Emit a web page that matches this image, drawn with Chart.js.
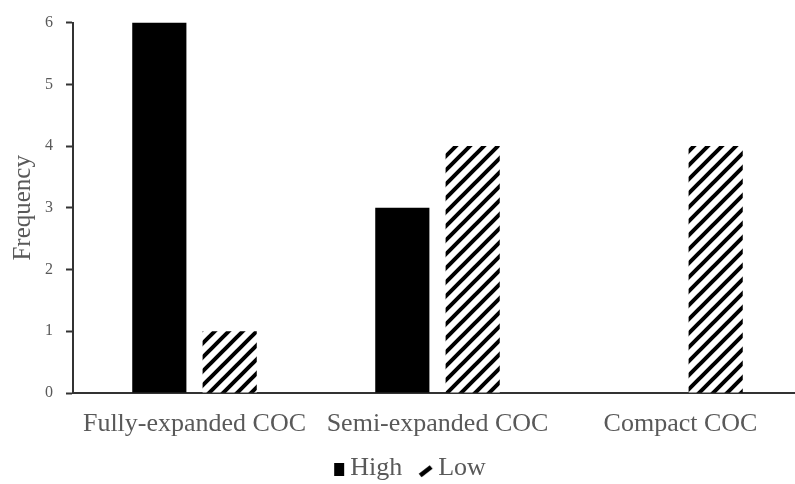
<!DOCTYPE html>
<html><head><meta charset="utf-8">
<script src="https://cdn.jsdelivr.net/npm/chart.js@4.4.0/dist/chart.umd.min.js"></script>
<style>html,body{margin:0;padding:0;background:#fff;overflow:hidden;}#wrap{width:802px;height:484px;}</style>
</head><body><div id="wrap"><canvas id="c"></canvas></div>
<script>
const categories = ["Fully-expanded COC", "Semi-expanded COC", "Compact COC"];
const highValues = [6, 3, 0];
const lowValues = [1, 4, 4];
const yTicks = [0, 1, 2, 3, 4, 5, 6];

function makeHatch() {
  const s = 14, c = document.createElement('canvas');
  c.width = s; c.height = s;
  const g = c.getContext('2d');
  g.fillStyle = '#fff'; g.fillRect(0, 0, s, s);
  g.strokeStyle = '#000'; g.lineWidth = 4; g.lineCap = 'square';
  g.beginPath();
  g.moveTo(-2, s + 2); g.lineTo(s + 2, -2);
  g.moveTo(-2, 2); g.lineTo(2, -2);
  g.moveTo(s - 2, s + 2); g.lineTo(s + 2, s - 2);
  g.stroke();
  return document.getElementById('c').getContext('2d').createPattern(c, 'repeat');
}
// legend icons: mark drawn in the right part of a wider canvas so the text sits close to it
const BOXW = 21, ICONW = 41, ICONH = 24;
function squareIcon() {
  const c = document.createElement('canvas'); c.width = ICONW; c.height = ICONH;
  const g = c.getContext('2d'); g.fillStyle = '#000'; g.fillRect(28, 7, 10, 13); return c;
}
function slashIcon() {
  const c = document.createElement('canvas'); c.width = ICONW; c.height = ICONH;
  const g = c.getContext('2d'); g.strokeStyle = '#000'; g.lineWidth = 4.5;
  g.beginPath(); g.moveTo(26, 19.5); g.lineTo(37, 11); g.stroke(); return c;
}
const hatch = makeHatch();
const icons = [squareIcon(), slashIcon()];
const font = 'Liberation Serif';
const grey = '#595959';

new Chart(document.getElementById('c'), {
  type: 'bar',
  data: {
    labels: categories,
    datasets: [
      { label: 'High', data: highValues, backgroundColor: '#000', borderWidth: 0 },
      { label: 'Low', data: lowValues, backgroundColor: hatch, borderWidth: 0 }
    ]
  },
  options: {
    responsive: true, maintainAspectRatio: false, animation: false,
    categoryPercentage: 0.579, barPercentage: 0.77,
    layout: { padding: { top: 17, right: 0, left: 0, bottom: -7 } },
    plugins: {
      tooltip: { enabled: false },
      legend: {
        position: 'bottom',
        labels: {
          font: { family: font, size: 26 }, color: grey,
          usePointStyle: true, padding: 2, boxWidth: 1, boxHeight: 1, pointStyleWidth: BOXW,
          generateLabels: (chart) => chart.data.datasets.map((d, i) => ({
            text: d.label, pointStyle: icons[i], fillStyle: '#000', strokeStyle: '#000',
            lineWidth: 0, datasetIndex: i, fontColor: grey
          }))
        }
      }
    },
    scales: {
      x: {
        grid: { display: false },
        border: { color: '#333', width: 2 },
        ticks: { font: { family: font, size: 26 }, color: grey, padding: 8, maxRotation: 0 },
        afterFit: (a) => { a.height = 60; }
      },
      y: {
        min: 0, max: 6,
        afterBuildTicks: (a) => { a.ticks = yTicks.map(v => ({ value: v })); },
        grid: { drawOnChartArea: false, drawTicks: true, tickLength: 7, tickColor: '#333', tickWidth: 2 },
        border: { color: '#333', width: 2 },
        ticks: { font: { family: font, size: 16 }, color: grey, padding: 13 },
        title: { display: true, text: 'Frequency', font: { family: font, size: 25 }, color: grey, padding: { top: 8, bottom: 0 } },
        afterFit: (a) => { a.width = 73; }
      }
    }
  }
});
</script></body></html>
